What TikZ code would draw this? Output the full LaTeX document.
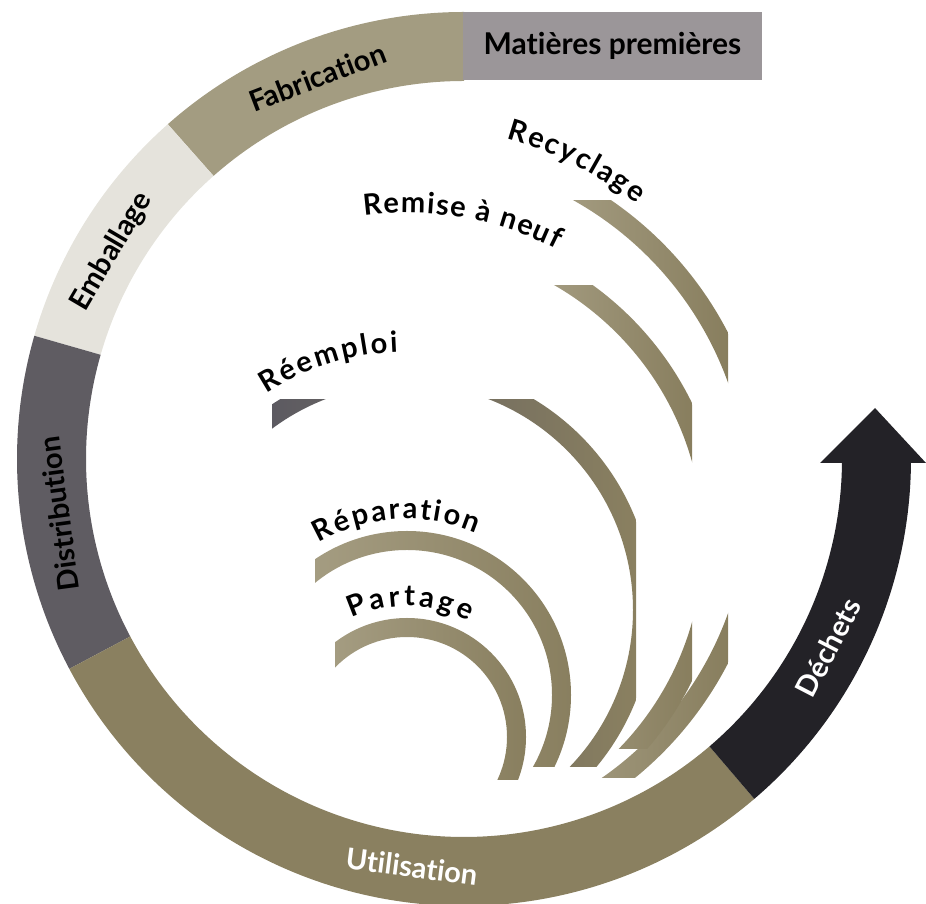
\documentclass[tikz,border=0pt]{standalone}
\usepackage{fontspec}
\setmainfont{Lato}[Ligatures=NoCommon]
\usepackage{tikz}
\usetikzlibrary{decorations.text}
\definecolor{fabcol}{HTML}{A39C81}
\definecolor{embcol}{HTML}{E5E3DC}
\definecolor{discol}{HTML}{5F5C62}
\definecolor{utilcol}{HTML}{8A8060}
\definecolor{dechcol}{HTML}{232227}
\definecolor{matcol}{HTML}{9B9699}
\definecolor{loopl}{HTML}{A49C81}
\definecolor{loopr}{HTML}{887E5E}
\definecolor{loopd}{HTML}{5C5A61}
\newcommand{\loopfont}{\fontsize{29}{31}\selectfont\bfseries}

\begin{document}
\begin{tikzpicture}[x=1pt,y=1pt,
  ringlabel/.style={font=\fontsize{29}{31}\selectfont\bfseries,inner sep=0pt},
  looplabel/.style={decorate,decoration={text along path,text align=fit to path,text={|\loopfont|#1}}}]
  \useasboundingbox (0,0) rectangle (926,904);
  % outer ring
  \begin{scope}[shift={(464,445)}]
    \fill[fabcol] (90:447) arc[start angle=90,end angle=131.5,radius=447] -- (131.5:378) arc[start angle=131.5,end angle=90,radius=378] -- cycle;
    \fill[embcol] (131.5:447) arc[start angle=131.5,end angle=164,radius=447] -- (164:378) arc[start angle=164,end angle=131.5,radius=378] -- cycle;
    \fill[discol] (164:447) arc[start angle=164,end angle=208,radius=447] -- (208:378) arc[start angle=208,end angle=164,radius=378] -- cycle;
    \fill[utilcol] (208:447) arc[start angle=208,end angle=310.5,radius=447] -- (310.5:378) arc[start angle=310.5,end angle=208,radius=378] -- cycle;
    \fill[dechcol] (310.5:447) arc[start angle=310.5,end angle=359.5,radius=447] -- (359.5:378) arc[start angle=359.5,end angle=310.5,radius=378] -- cycle;
    \node[ringlabel,rotate=21] (fabrication) at (111:409) {Fabrication};
    \node[ringlabel,rotate=59.5] (emballage) at (149.5:409) {Emballage};
    \node[ringlabel,rotate=97.7] (distribution) at (187.7:409) {Distribution};
    \node[ringlabel,text=white,rotate=-7.3] (utilisation) at (262.7:411) {Utilisation};
    \node[ringlabel,text=white,rotate=62.6] (dechets) at (-27.4:410) {Déchets};
  \end{scope}
  \fill[dechcol] (820,441) -- (926,441) -- (875,496) -- cycle;
  \node[fill=matcol,minimum width=299pt,minimum height=68pt,inner sep=0pt,font=\fontsize{30}{32}\selectfont\bfseries] (matieres) at (612.5,858) {Matières premières};
  % loops
  \begin{scope}
    \clip (560,126) rectangle (728,703);
    \clip (407,406) ++(0:361) arc[start angle=0,end angle=360,radius=361] -- ++(-20,0) arc[start angle=0,end angle=-360,radius=341] -- cycle;
    \shade[left color=loopl,right color=loopr] (560,126) rectangle (728,703);
  \end{scope}
  \begin{scope}
    \clip (540,155) rectangle (692,618);
    \clip (407,362) ++(0:317) arc[start angle=0,end angle=360,radius=317] -- ++(-21,0) arc[start angle=0,end angle=-360,radius=296] -- cycle;
    \shade[left color=loopl,right color=loopr] (540,155) rectangle (692,618);
  \end{scope}
  \begin{scope}
    \clip (272,137) rectangle (636,504);
    \clip (407,294) ++(0:246) arc[start angle=0,end angle=360,radius=246] -- ++(-20,0) arc[start angle=0,end angle=-360,radius=226] -- cycle;
    \shade[left color=loopd,right color=utilcol] (272,137) rectangle (636,504);
  \end{scope}
  \begin{scope}
    \clip (315,137) rectangle (580,380);
    \clip (407,209) ++(0:164) arc[start angle=0,end angle=360,radius=164] -- ++(-19,0) arc[start angle=0,end angle=-360,radius=145] -- cycle;
    \shade[left color=loopl,right color=loopr] (315,137) rectangle (580,380);
  \end{scope}
  \begin{scope}
    \clip (335,124) rectangle (530,290);
    \clip (407,167) ++(0:119) arc[start angle=0,end angle=360,radius=119] -- ++(-19,0) arc[start angle=0,end angle=-360,radius=100] -- cycle;
    \shade[left color=loopl,right color=loopr] (335,124) rectangle (530,290);
  \end{scope}
  \path[looplabel=Recyclage] (407,406) ++(74.5:373) arc[start angle=74.5,end angle=52,radius=373];
  \path[looplabel=Remise à neuf] (407,362) ++(97.5:329) arc[start angle=97.5,end angle=63,radius=329];
  \path[looplabel=Réemploi] (407,294) ++(123:258) arc[start angle=123,end angle=92,radius=258];
  \path[looplabel=Réparation] (407,209) ++(120:176) arc[start angle=120,end angle=67,radius=176];
  \path[looplabel=Partage] (407,167) ++(115:131) arc[start angle=115,end angle=62,radius=131];
\end{tikzpicture}
\end{document}
